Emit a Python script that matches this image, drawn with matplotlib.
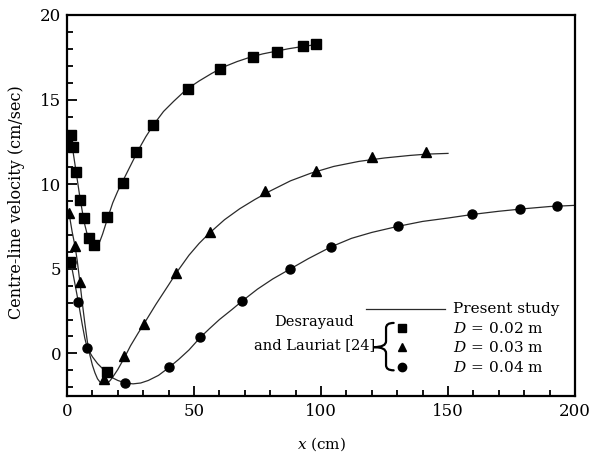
import matplotlib
matplotlib.use("Agg")
import matplotlib.pyplot as plt
from matplotlib.path import Path
from matplotlib.patches import PathPatch
from matplotlib.ticker import MultipleLocator

plt.rcParams["font.family"] = ["DejaVu Serif"]
plt.rcParams["mathtext.fontset"] = "dejavuserif"

# Present study: centre-line velocity profiles (cm, cm/s)
x_02 = [0, 1, 2, 3, 4, 5, 6, 7, 8, 9, 10, 11, 12, 13, 14, 16, 18, 20, 22, 25,
        28, 31, 34, 38, 42, 47, 52, 57, 62, 67, 72, 77, 82, 87, 92, 98]
v_02 = [12.5, 12.8, 12.3, 11.3, 10.3, 9.3, 8.4, 7.6, 7.0, 6.6, 6.35, 6.25, 6.35,
        6.65, 7.05, 8.0, 8.9, 9.6, 10.2, 11.1, 12.0, 12.8, 13.5, 14.3, 14.9,
        15.6, 16.1, 16.55, 16.95, 17.25, 17.5, 17.7, 17.85, 18.0, 18.12, 18.25]

x_03 = [0.3, 1, 2, 3.2, 4, 5, 6, 7, 8, 9, 10, 11, 12, 13, 14, 15, 16, 17, 18,
        20, 22.6, 25, 28, 30.5, 35, 40, 43, 48, 52, 56, 62, 68, 74, 80, 88, 96,
        105, 115, 125, 135, 142, 150]
v_03 = [8.4, 8.1, 7.2, 6.3, 5.5, 4.3, 3.0, 1.8, 0.7, -0.1, -0.7, -1.15, -1.5,
        -1.7, -1.8, -1.82, -1.75, -1.6, -1.4, -0.95, -0.25, 0.45, 1.2, 1.8, 2.9,
        4.05, 4.75, 5.8, 6.5, 7.1, 7.9, 8.55, 9.1, 9.6, 10.2, 10.65, 11.05,
        11.35, 11.55, 11.7, 11.78, 11.82]

x_04 = [0.3, 1.6, 3, 4.5, 6, 7, 8, 10, 12, 14, 16, 18, 20, 23, 26, 29, 32, 36,
        40, 44, 48, 52.5, 56, 60, 65, 69, 75, 81, 88, 95, 104, 112, 120, 130,
        140, 150, 160, 170, 180, 190, 200]
v_04 = [5.6, 5.3, 4.2, 3.0, 1.7, 0.9, 0.3, -0.2, -0.6, -0.9, -1.2, -1.45, -1.6,
        -1.75, -1.8, -1.75, -1.6, -1.3, -0.85, -0.35, 0.2, 0.95, 1.45, 2.0,
        2.6, 3.1, 3.8, 4.4, 5.0, 5.6, 6.3, 6.8, 7.15, 7.5, 7.8, 8.0, 8.22,
        8.4, 8.55, 8.68, 8.75]

# Desrayaud and Lauriat [24]
xs_02 = [0, 1.5, 2.2, 3.7, 5.1, 6.7, 8.6, 10.7, 15.9, 22.2, 27.2, 33.8, 47.5,
         60.4, 73.1, 82.7, 93.0, 98.0, 1.2, 15.6]
ys_02 = [12.6, 12.9, 12.2, 10.7, 9.05, 8.0, 6.8, 6.4, 8.05, 10.1, 11.9, 13.5,
         15.6, 16.8, 17.53, 17.83, 18.17, 18.26, 5.4, -1.1]

xs_03 = [0.8, 3.2, 5.1, 14.4, 22.6, 30.5, 42.9, 56.4, 77.8, 98.2, 120.2, 141.2]
ys_03 = [8.27, 6.35, 4.2, -1.5, -0.18, 1.75, 4.77, 7.18, 9.59, 10.79, 11.6, 11.93]

xs_04 = [1.6, 4.5, 7.8, 22.9, 40.2, 52.5, 68.9, 87.6, 104.1, 130.4, 159.6,
         178.4, 192.9]
ys_04 = [5.4, 3.04, 0.3, -1.76, -0.8, 0.97, 3.08, 5.0, 6.3, 7.5, 8.22, 8.52, 8.72]

legend_labels = ["Present study", r"$D\,=\,0.02$ m", r"$D\,=\,0.03$ m",
                 r"$D\,=\,0.04$ m"]

fig = plt.figure(figsize=(5.9, 4.53), dpi=100)
ax = fig.add_axes([0.1136, 0.1265, 0.861, 0.8404])

line_kw = dict(color="#2a2a2a", lw=0.9)
ax.plot(x_02, v_02, **line_kw)
ax.plot(x_03, v_03, **line_kw)
ax.plot(x_04, v_04, **line_kw)

ax.plot(xs_02, ys_02, ls="none", marker="s", ms=7, color="black")
ax.plot(xs_03, ys_03, ls="none", marker="^", ms=7, color="black")
ax.plot(xs_04, ys_04, ls="none", marker="o", ms=6.5, color="black")

ax.set_xlim(0, 200)
ax.set_ylim(-2.5, 20)
ax.xaxis.set_major_locator(MultipleLocator(50))
ax.xaxis.set_minor_locator(MultipleLocator(10))
ax.yaxis.set_major_locator(MultipleLocator(5))
ax.yaxis.set_minor_locator(MultipleLocator(1))
ax.tick_params(which="both", direction="in", top=False, right=False,
               width=1.3, labelsize=12)
ax.tick_params(which="major", length=7)
ax.tick_params(which="minor", length=4)
ax.tick_params(axis="x", pad=5)
ax.tick_params(axis="y", pad=4)
for sp in ax.spines.values():
    sp.set_linewidth(1.6)

ax.set_xlabel(r"$x$ (cm)", fontsize=11)
ax.set_ylabel("Centre-line velocity (cm/sec)", fontsize=11.5)
ax.xaxis.set_label_coords(0.502, -0.104)
ax.yaxis.set_label_coords(-0.083, 0.509)

# Hand-built legend
ax.plot([117.7, 148.8], [2.62, 2.62], **line_kw)
txt_x = 152
for label, yy in zip(legend_labels, [2.62, 1.5, 0.37, -0.81]):
    ax.text(txt_x, yy, label, fontsize=11, va="center", ha="left")
ax.plot([132], [1.5], ls="none", marker="s", ms=6, color="black")
ax.plot([132], [0.37], ls="none", marker="^", ms=6, color="black")
ax.plot([132], [-0.81], ls="none", marker="o", ms=6, color="black")

ax.text(97.3, 1.85, "Desrayaud", fontsize=10.5, ha="center", va="center")
ax.text(97.3, 0.5, "and Lauriat [24]", fontsize=10.5, ha="center", va="center")

# Curly brace grouping the reference data
xm, xl, xr = 125.6, 120.8, 128.6
yt, ym, yb = 1.8, 0.37, -1.0
verts = [(xr, yt), (xm, yt), (xm, yt - 0.3),
         (xm, ym + 0.35), (xm, ym), (xl, ym),
         (xm, ym), (xm, ym - 0.35),
         (xm, yb + 0.3), (xm, yb), (xr, yb)]
codes = [Path.MOVETO, Path.CURVE3, Path.CURVE3,
         Path.LINETO, Path.CURVE3, Path.CURVE3,
         Path.CURVE3, Path.CURVE3,
         Path.LINETO, Path.CURVE3, Path.CURVE3]
ax.add_patch(PathPatch(Path(verts, codes), fill=False, lw=1.6,
                       edgecolor="black", capstyle="round"))

fig.savefig("out.png", dpi=100)
